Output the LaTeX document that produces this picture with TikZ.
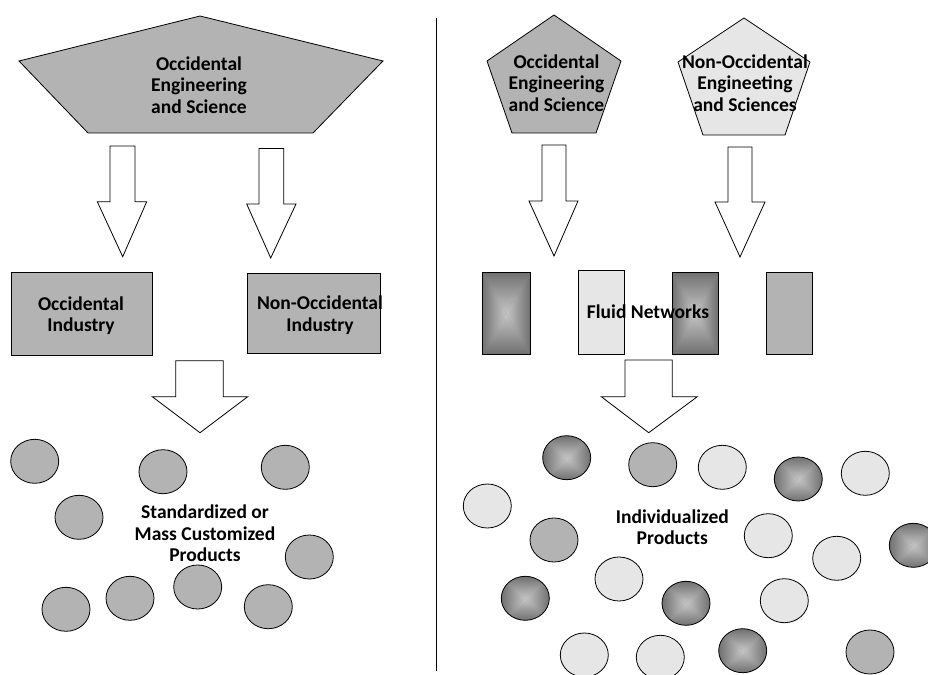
\documentclass[tikz,border=0pt]{standalone}
\usepackage{fontspec}
\setmainfont{Carlito}
\usetikzlibrary{shapes.geometric}
\definecolor{midgray}{RGB}{179,179,179}
\definecolor{palegray}{RGB}{230,230,230}
\definecolor{gedge}{RGB}{112,112,112}
\definecolor{gmid}{RGB}{198,198,198}
\tikzset{
  outl/.style={draw=black, line width=0.8bp},
  lbl/.style={font=\bfseries\fontsize{19.6}{21.5}\selectfont, align=center, inner sep=0pt, text=black},
  flat/.style={outl, fill=midgray},
  pale/.style={outl, fill=palegray},
  xshade/.style={outl, fill=gedge, path picture={
    \begin{scope}
      \clip (path picture bounding box.north west) -- (path picture bounding box.north east) -- (path picture bounding box.center) -- cycle
            (path picture bounding box.south west) -- (path picture bounding box.south east) -- (path picture bounding box.center) -- cycle;
      \shade[top color=gedge, bottom color=gedge, middle color=gmid] (path picture bounding box.south west) rectangle (path picture bounding box.north east);
    \end{scope}
    \begin{scope}
      \clip (path picture bounding box.north west) -- (path picture bounding box.south west) -- (path picture bounding box.center) -- cycle
            (path picture bounding box.north east) -- (path picture bounding box.south east) -- (path picture bounding box.center) -- cycle;
      \shade[left color=gedge, right color=gedge, middle color=gmid] (path picture bounding box.south west) rectangle (path picture bounding box.north east);
    \end{scope}
  }},
  prod/.style={ellipse, minimum width=48bp, minimum height=44bp, inner sep=0pt},
  blockarrow/.style={draw=black, line width=0.8bp, fill=white, line join=miter},
}
\newcommand{\blkarrow}[8]{%
  \draw[blockarrow] (#1,#3) -- (#2,#3) -- (#2,#4) -- (#6,#4) -- (#7,#8) -- (#5,#4) -- (#1,#4) -- cycle;}
\begin{document}
\begin{tikzpicture}[x=1bp, y=-1bp]
\useasboundingbox (0,0) rectangle (928,675);

% separator
\coordinate (septop) at (436.5,18);
\coordinate (sepbot) at (436.5,671);
\draw[line width=1.2bp] (septop) -- (sepbot);

% ===== LEFT SIDE =====
\draw[flat] (200,16) -- (383,61) -- (313,133) -- (88,133) -- (19,61) -- cycle;
\node[lbl] (oesL) at (199,85) {Occidental\\Engineering\\and Science};

\blkarrow{110}{135}{146}{201.7}{97.3}{146.7}{122.7}{256.7}
\blkarrow{259}{283.7}{148.5}{204}{246.7}{296}{270.7}{258}

\node[flat, minimum width=141bp, minimum height=83bp, inner sep=0pt] (box1) at (81.5,313.5) {};
\node[lbl] (box1t) at (81,315.5) {Occidental\\Industry};
\node[flat, minimum width=133bp, minimum height=80bp, inner sep=0pt] (box2) at (313.5,313) {};
\node[lbl] (box2t) at (320,315) {Non-Occidental\\Industry};

\blkarrow{175.7}{223.3}{360.7}{396.7}{152.3}{247.7}{200}{432.7}

\node[prod, flat] (l1) at (34.7,461.3) {};
\node[prod, flat] (l2) at (163,471.7) {};
\node[prod, flat] (l3) at (285.3,467.3) {};
\node[prod, flat] (l4) at (79,517.3) {};
\node[prod, flat] (l5) at (309.3,557) {};
\node[prod, flat] (l6) at (66,609.3) {};
\node[prod, flat] (l7) at (130,598.3) {};
\node[prod, flat] (l8) at (197.7,587) {};
\node[prod, flat] (l9) at (268.3,606.7) {};
\node[lbl] (stdtxt) at (205,533.3) {Standardized or\\Mass Customized\\Products};

% ===== RIGHT SIDE =====
\draw[flat] (554,15) -- (621,61) -- (596,133) -- (512,133) -- (487,61) -- cycle;
\node[lbl] (oesR) at (556.5,83) {Occidental\\Engineering\\and Science};
\draw[pale] (744,18) -- (810,62) -- (785,135) -- (703,135) -- (678,62) -- cycle;
\node[lbl] (noesR) at (745,83) {Non-Occidental\\Engineeting\\and Sciences};

\blkarrow{542}{566}{145}{201}{529}{578}{554}{256}
\blkarrow{728}{752}{147}{202}{715}{765}{740}{257}

\node[xshade, minimum width=48bp, minimum height=82bp, inner sep=0pt] (n1) at (506,313) {};
\node[pale, minimum width=46bp, minimum height=84bp, inner sep=0pt] (n2) at (601,312) {};
\node[xshade, minimum width=46bp, minimum height=82bp, inner sep=0pt] (n3) at (695,313) {};
\node[flat, minimum width=46bp, minimum height=82bp, inner sep=0pt] (n4) at (789,313) {};
\node[lbl] (fluid) at (648,311.5) {Fluid Networks};

\blkarrow{625}{672.3}{360}{396.7}{601.3}{697.3}{648.7}{432.7}

\node[prod, xshade] (r1) at (566.7,457.7) {};
\node[prod, flat] (r2) at (652.7,464.7) {};
\node[prod, pale] (r3) at (722.3,467.3) {};
\node[prod, xshade] (r4) at (798.3,479) {};
\node[prod, pale] (r5) at (865.3,473.3) {};
\node[prod, pale] (r6) at (487.3,506) {};
\node[prod, flat] (r7) at (554,540) {};
\node[prod, pale] (r8) at (768.3,535.7) {};
\node[prod, pale] (r9) at (836.7,558.3) {};
\node[prod, xshade] (r10) at (913.3,545.3) {};
\node[prod, pale] (r11) at (619,579) {};
\node[prod, xshade] (r12) at (525.3,598.3) {};
\node[prod, xshade] (r13) at (686,603.3) {};
\node[prod, pale] (r14) at (784.3,600.7) {};
\node[prod, pale] (r15) at (584.3,655) {};
\node[prod, pale] (r16) at (660.3,657.3) {};
\node[prod, xshade] (r17) at (742.7,650.7) {};
\node[prod, flat] (r18) at (870,652) {};
\node[lbl] (indtxt) at (672.3,527) {Individualized\\Products};
\end{tikzpicture}
\end{document}
